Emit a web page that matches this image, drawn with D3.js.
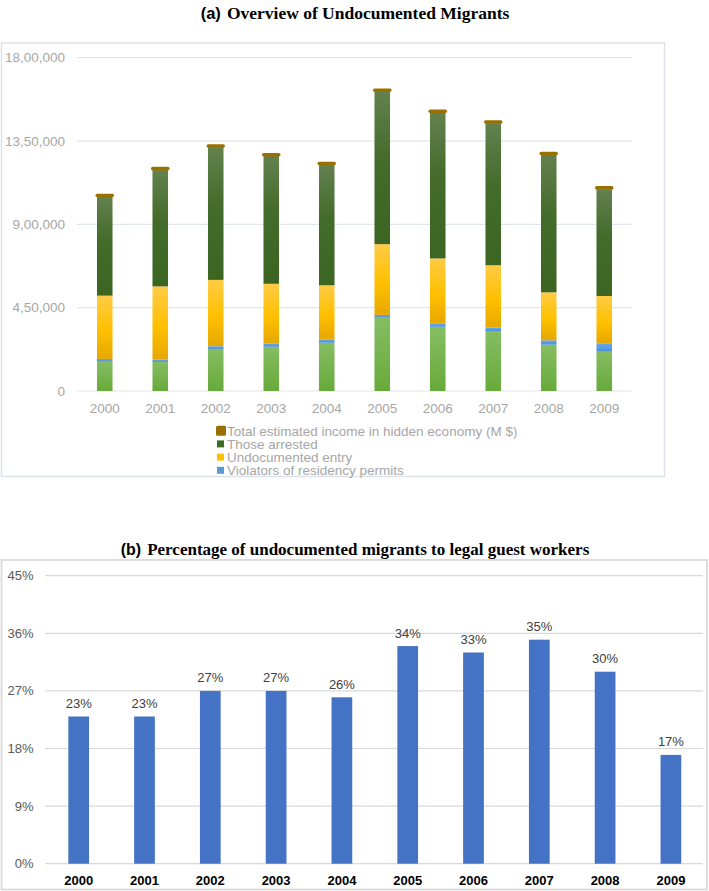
<!DOCTYPE html>
<html>
<head>
<meta charset="utf-8">
<script src="https://cdn.jsdelivr.net/npm/d3@7/dist/d3.min.js"></script>
<style>
  html, body { margin: 0; padding: 0; background: #ffffff; }
  svg { display: block; }
</style>
</head>
<body>
<svg id="chart" width="709" height="891"></svg>
<script>
// ---------- DATA ----------
const years = ["2000","2001","2002","2003","2004","2005","2006","2007","2008","2009"];

// Panel (a): stacked series, bottom to top
const baseSegment   = [158000,157000,227000,239000,261000,396000,347000,324000,250000,212000]; // light green (no legend entry)
const violators     = [15000,12000,15000,18000,18000,15000,16000,18000,24000,43000];
const undocEntry    = [342000,396000,358000,322000,292000,382000,353000,337000,259000,258000];
const arrested      = [535000,628000,717000,690000,651000,824000,788000,767000,743000,576000];
const hiddenIncome  = [15000,18000,16000,16000,16000,16000,16000,16000,16000,18000];
const topTicks      = [0,450000,900000,1350000,1800000];

const legendNames = ["Total estimated income in hidden economy (M $)","Those arrested","Undocumented entry","Violators of residency permits"];

// Panel (b)
const pctValues = [23,23,27,27,26,34,33,35,30,17];
const pctTicks  = [0,9,18,27,36,45];

// ---------- HELPERS ----------
function formatIndian(n) {
  const s = String(Math.round(n));
  if (s.length <= 3) return s;
  const last3 = s.slice(-3);
  let rest = s.slice(0, -3);
  const parts = [];
  while (rest.length > 2) { parts.unshift(rest.slice(-2)); rest = rest.slice(0, -2); }
  if (rest.length) parts.unshift(rest);
  return parts.join(",") + "," + last3;
}

const svg = d3.select("#chart");
const defs = svg.append("defs");

function grad(id, stops) {
  const g = defs.append("linearGradient").attr("id", id)
    .attr("x1", 0).attr("y1", 0).attr("x2", 0).attr("y2", 1);
  stops.forEach(s => g.append("stop").attr("offset", s[0]).attr("stop-color", s[1]));
}
grad("gBase",   [[0,"#86bd63"],[1,"#67aa3a"]]);
grad("gViol",   [[0,"#6aa8e6"],[1,"#4a8fd8"]]);
grad("gUndoc",  [[0,"#ffcb45"],[0.55,"#ffc000"],[1,"#e6a700"]]);
grad("gArr",    [[0,"#62814f"],[0.45,"#436b2a"],[1,"#3c6522"]]);
grad("gIncome", [[0,"#9e7600"],[1,"#936c00"]]);

// ---------- PANEL (a) ----------
svg.append("rect").attr("x", 1.5).attr("y", 43).attr("width", 663).attr("height", 433.5)
  .attr("fill", "none").attr("stroke", "#dde1ea").attr("stroke-width", 1.5);

const tA = svg.append("text").attr("x", 355).attr("y", 18.5).attr("text-anchor", "middle")
  .attr("font-weight", "bold").attr("fill", "#000");
tA.append("tspan").attr("font-family", "Liberation Sans, Arial, sans-serif").attr("font-size", 16.5).text("(a)");
tA.append("tspan").attr("font-family", "Liberation Serif, Times New Roman, serif").attr("font-size", 17.5).attr("dx", 6)
  .text("Overview of Undocumented Migrants");

const xA = d3.scaleBand().domain(years).range([77, 632]).paddingInner(0.72).paddingOuter(0.36);
const yA = d3.scaleLinear().domain([0, 1800000]).range([391, 57.7]);

svg.append("g").selectAll("line").data(topTicks).join("line")
  .attr("x1", 77).attr("x2", 632)
  .attr("y1", d => yA(d)).attr("y2", d => yA(d))
  .attr("stroke", "#e1e5ee").attr("stroke-width", 1.2);

svg.append("g").selectAll("text").data(topTicks).join("text")
  .attr("x", 65).attr("y", d => yA(d)).attr("dy", "0.35em")
  .attr("text-anchor", "end")
  .attr("font-family", "Liberation Sans, Arial, sans-serif").attr("font-size", 13.5)
  .attr("fill", "#a6a6a6").text(d => formatIndian(d));

svg.append("g").selectAll("text").data(years).join("text")
  .attr("x", d => xA(d) + xA.bandwidth() / 2).attr("y", 412.5)
  .attr("text-anchor", "middle")
  .attr("font-family", "Liberation Sans, Arial, sans-serif").attr("font-size", 13.5)
  .attr("fill", "#a6a6a6").text(d => d);

const keys = ["base", "viol", "undoc", "arr", "income"];
const rows = years.map((y, i) => ({
  year: y, base: baseSegment[i], viol: violators[i], undoc: undocEntry[i], arr: arrested[i], income: hiddenIncome[i]
}));
const stacked = d3.stack().keys(keys)(rows);
const fills = { base: "url(#gBase)", viol: "url(#gViol)", undoc: "url(#gUndoc)", arr: "url(#gArr)", income: "url(#gIncome)" };

stacked.forEach(layer => {
  const g = svg.append("g");
  if (layer.key === "income") {
    g.selectAll("rect").data(layer).join("rect")
      .attr("x", d => xA(d.data.year) - 1.5)
      .attr("width", xA.bandwidth() + 3)
      .attr("y", d => yA(d[1]))
      .attr("height", d => Math.max(0, yA(d[0]) - yA(d[1])) + 0.5)
      .attr("rx", 1.8).attr("ry", 1.8)
      .attr("fill", "#997100");
  } else {
    g.selectAll("rect").data(layer).join("rect")
      .attr("x", d => xA(d.data.year))
      .attr("width", xA.bandwidth())
      .attr("y", d => yA(d[1]))
      .attr("height", d => Math.max(0, yA(d[0]) - yA(d[1])))
      .attr("fill", fills[layer.key]);
  }
});

// legend
const legendColors = ["#997100", "#3f6b26", "#ffc000", "#5b9bd5"];
const legY0 = 430.7, legStep = 13.2;
const leg = svg.append("g");
legendNames.forEach((name, i) => {
  const cy = legY0 + i * legStep;
  if (i === 0) {
    leg.append("rect").attr("x", 216).attr("y", cy - 5).attr("width", 10).attr("height", 10)
      .attr("rx", 1.5).attr("fill", legendColors[i]);
  } else {
    leg.append("rect").attr("x", 217).attr("y", cy - 3.5).attr("width", 7).attr("height", 7)
      .attr("fill", legendColors[i]);
  }
  leg.append("text").attr("x", 227).attr("y", cy).attr("dy", "0.36em")
    .attr("font-family", "Liberation Sans, Arial, sans-serif").attr("font-size", 13.5)
    .attr("fill", "#a6a6a6").text(name);
});

// ---------- PANEL (b) ----------
svg.append("rect").attr("x", 1.5).attr("y", 560).attr("width", 705.5).attr("height", 329.5)
  .attr("fill", "none").attr("stroke", "#d9d9d9").attr("stroke-width", 1.8);

const tB = svg.append("text").attr("x", 355).attr("y", 555).attr("text-anchor", "middle")
  .attr("font-weight", "bold").attr("fill", "#000");
tB.append("tspan").attr("font-family", "Liberation Sans, Arial, sans-serif").attr("font-size", 16).text("(b)");
tB.append("tspan").attr("font-family", "Liberation Serif, Times New Roman, serif").attr("font-size", 17).attr("dx", 6)
  .text("Percentage of undocumented migrants to legal guest workers");

const xB = d3.scaleBand().domain(years).range([45.8, 703.8]).paddingInner(0.685).paddingOuter(0.3425);
const yB = d3.scaleLinear().domain([0, 45]).range([863.7, 575.7]);

svg.append("g").selectAll("line").data(pctTicks).join("line")
  .attr("x1", 45).attr("x2", 703)
  .attr("y1", d => yB(d)).attr("y2", d => yB(d))
  .attr("stroke", "#d9d9d9").attr("stroke-width", 1.2);

svg.append("g").selectAll("text").data(pctTicks).join("text")
  .attr("x", 33.5).attr("y", d => yB(d)).attr("dy", "0.35em")
  .attr("text-anchor", "end")
  .attr("font-family", "Liberation Sans, Arial, sans-serif").attr("font-size", 13)
  .attr("fill", "#595959").text(d => d + "%");

svg.append("g").selectAll("rect").data(pctValues).join("rect")
  .attr("x", (d, i) => xB(years[i]))
  .attr("width", xB.bandwidth())
  .attr("y", d => yB(d))
  .attr("height", d => yB(0) - yB(d))
  .attr("fill", "#4472c4");

svg.append("g").selectAll("text").data(pctValues).join("text")
  .attr("x", (d, i) => xB(years[i]) + xB.bandwidth() / 2)
  .attr("y", d => yB(d) - 8.5)
  .attr("text-anchor", "middle")
  .attr("font-family", "Liberation Sans, Arial, sans-serif").attr("font-size", 13)
  .attr("fill", "#404040").text(d => d + "%");

svg.append("g").selectAll("text").data(years).join("text")
  .attr("x", d => xB(d) + xB.bandwidth() / 2).attr("y", 884.5)
  .attr("text-anchor", "middle")
  .attr("font-family", "Liberation Sans, Arial, sans-serif").attr("font-size", 13)
  .attr("font-weight", "bold").attr("fill", "#000").text(d => d);
</script>
</body>
</html>
